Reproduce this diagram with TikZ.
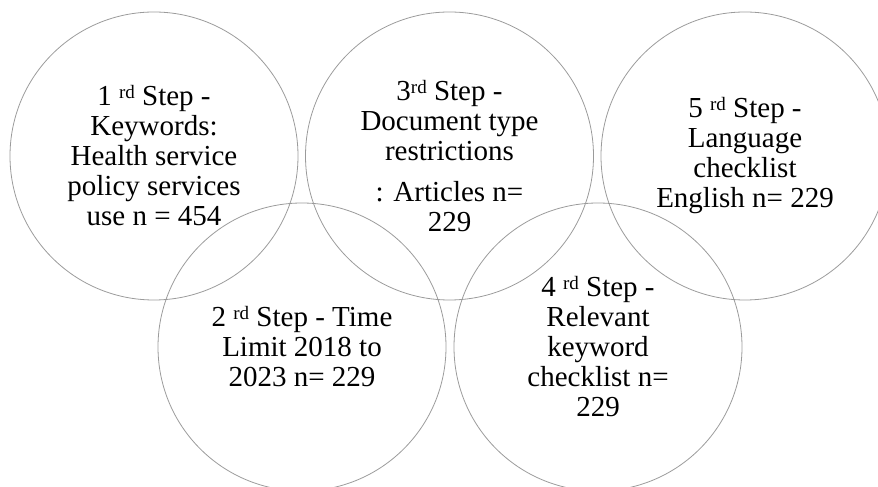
\documentclass[tikz,border=0pt]{standalone}
\usepackage{fontspec}
\setmainfont{Liberation Serif}
\newcommand\supx[1]{\raisebox{7pt}{\fontsize{19}{19}\selectfont #1}}
\definecolor{ringgray}{RGB}{155,155,155}
\tikzset{
  stepcircle/.style={circle, draw=ringgray, line width=0.8pt, minimum size=288pt,
    inner sep=0pt, align=center, text=black,
    font=\fontsize{29}{30}\selectfont}
}
\begin{document}
\begin{tikzpicture}[x=1pt,y=1pt]
\useasboundingbox (0,0) rectangle (878,487);
\clip (0,0) rectangle (878,487);
\node[stepcircle] (s1) at (154,331) {1 \supx{rd} Step -\\Keywords:\\Health service\\policy services\\use n = 454};
\node[stepcircle] (s3) at (449.5,331) {3\supx{rd} Step -\\Document type\\restrictions\\[11pt]: Articles n=\\229};
\node[stepcircle] (s5) at (745,331) {5 \supx{rd} Step -\\Language\\checklist\\English n= 229};
\node[stepcircle] (s2) at (302,140) {2 \supx{rd} Step - Time\\Limit 2018 to\\2023 n= 229};
\node[stepcircle] (s4) at (598,140) {4 \supx{rd} Step -\\Relevant\\keyword\\checklist n=\\229};
\end{tikzpicture}
\end{document}
